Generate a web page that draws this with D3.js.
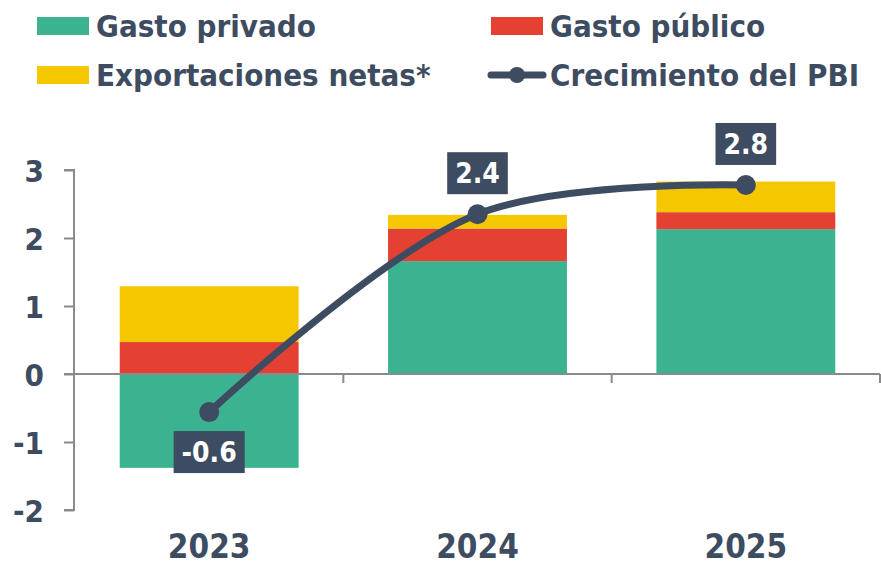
<!DOCTYPE html>
<html><head><meta charset="utf-8">
<script src="https://cdn.jsdelivr.net/npm/d3@7"></script>
<style>
html,body{margin:0;padding:0;background:#fff;}
svg{display:block;}
</style></head>
<body>
<svg id="chart" width="881" height="566"></svg>
<script>
// ---- data ----
const years = ["2023", "2024", "2025"];
const gastoPrivado = [-1.38, 1.66, 2.13];
const gastoPublico = [0.47, 0.48, 0.25];
const exportacionesNetas = [0.82, 0.20, 0.45];
const crecimientoPBI = [-0.56, 2.35, 2.78];
const yTicks = [-2, -1, 0, 1, 2, 3];
const seriesNames = ["Gasto privado", "Gasto público", "Exportaciones netas*"];
const lineName = "Crecimiento del PBI";

// ---- style ----
const colors = ["#3bb391", "#e44133", "#f5c700"];
const dark = "#3e4c61";
const axisGray = "#8a8a8a";
const font = "'DejaVu Sans Condensed', 'DejaVu Sans', sans-serif";

const svg = d3.select("#chart");
const x = d3.scaleBand().domain(years).range([75, 880]).paddingInner(1/3).paddingOuter(1/6);
const y = d3.scaleLinear().domain([-2, 3]).range([510, 170]);

const rows = years.map((yr, i) => ({
  year: yr, s0: gastoPrivado[i], s1: gastoPublico[i], s2: exportacionesNetas[i]
}));
const stack = d3.stack().keys(["s0", "s1", "s2"]).offset(d3.stackOffsetDiverging);
const stacked = stack(rows);

// y axis
const yAxis = d3.axisLeft(y).tickValues(yTicks).tickSize(10).tickPadding(20).tickFormat(d => String(d));
const gy = svg.append("g").attr("transform", "translate(74,0)").call(yAxis);
gy.select(".domain").attr("stroke", axisGray).attr("stroke-width", 2).attr("d", `M-10,${y(3)}H0V${y(-2)}H-10`);
gy.selectAll(".tick line").attr("stroke", axisGray).attr("stroke-width", 2);
gy.selectAll(".tick text").attr("fill", dark).attr("font-family", font)
  .attr("font-weight", "bold").attr("font-size", 31).attr("dy", "0.36em");

// bars
svg.append("g").selectAll("g").data(stacked).join("g")
  .attr("fill", (d, i) => colors[i])
  .selectAll("rect").data(d => d).join("rect")
  .attr("x", d => x(d.data.year))
  .attr("width", x.bandwidth())
  .attr("y", d => y(Math.max(d[0], d[1])))
  .attr("height", d => Math.abs(y(d[0]) - y(d[1])));

// zero line & x ticks
const gx = svg.append("g");
gx.append("line").attr("x1", 64).attr("x2", 880).attr("y1", y(0)).attr("y2", y(0))
  .attr("stroke", axisGray).attr("stroke-width", 2);
const boundaries = years.map(d => x(d) + x.bandwidth() + x.step() * x.paddingInner() / 2);
gx.selectAll("line.tk").data(boundaries).join("line").attr("class", "tk")
  .attr("x1", d => d).attr("x2", d => d).attr("y1", y(0)).attr("y2", y(0) + 9)
  .attr("stroke", axisGray).attr("stroke-width", 2);
gx.selectAll("text").data(years).join("text")
  .attr("x", d => x(d) + x.bandwidth() / 2).attr("y", 558)
  .attr("text-anchor", "middle").attr("fill", dark).attr("font-family", font)
  .attr("font-weight", "bold").attr("font-size", 33).text(d => d);

// line
const pts = years.map((yr, i) => [x(yr) + x.bandwidth() / 2, y(crecimientoPBI[i])]);
svg.append("path").attr("d", d3.line().curve(d3.curveCatmullRom.alpha(0.5))(pts))
  .attr("fill", "none").attr("stroke", dark).attr("stroke-width", 7).attr("stroke-linecap", "round");
svg.append("g").selectAll("circle").data(pts).join("circle")
  .attr("cx", d => d[0]).attr("cy", d => d[1]).attr("r", 10).attr("fill", dark);

// labels
const lab = svg.append("g");
years.forEach((yr, i) => {
  const [px, py] = pts[i];
  const below = crecimientoPBI[i] < 0;
  const g = lab.append("g");
  const t = g.append("text").attr("x", px).attr("text-anchor", "middle")
    .attr("fill", "#fff").attr("font-family", font).attr("font-weight", "bold")
    .attr("font-size", 28).text(crecimientoPBI[i].toFixed(1));
  const w = t.node().getComputedTextLength() + 16;
  const h = 42;
  const top = below ? py + 19 : py - 20 - h;
  g.insert("rect", "text").attr("x", px - w / 2).attr("y", top).attr("width", w).attr("height", h).attr("fill", dark);
  t.attr("y", top + h / 2).attr("dy", "0.36em");
});

// legend
const leg = svg.append("g");
const legItems = [
  {name: seriesNames[0], type: "rect", color: colors[0], lx: 37, cy: 26},
  {name: seriesNames[1], type: "rect", color: colors[1], lx: 491, cy: 26},
  {name: seriesNames[2], type: "rect", color: colors[2], lx: 37, cy: 75},
  {name: lineName, type: "line", color: dark, lx: 491, cy: 75}
];
legItems.forEach(it => {
  if (it.type === "rect") {
    leg.append("rect").attr("x", it.lx).attr("y", it.cy - 9).attr("width", 52).attr("height", 18).attr("fill", it.color);
  } else {
    leg.append("line").attr("x1", it.lx).attr("x2", it.lx + 52).attr("y1", it.cy).attr("y2", it.cy)
      .attr("stroke", it.color).attr("stroke-width", 7).attr("stroke-linecap", "round");
    leg.append("circle").attr("cx", it.lx + 26).attr("cy", it.cy).attr("r", 8).attr("fill", it.color);
  }
  leg.append("text").attr("x", it.lx + 59).attr("y", it.cy).attr("dy", "0.36em")
    .attr("fill", dark).attr("font-family", font).attr("font-weight", "bold").attr("font-size", 31).text(it.name);
});
</script>
</body></html>
